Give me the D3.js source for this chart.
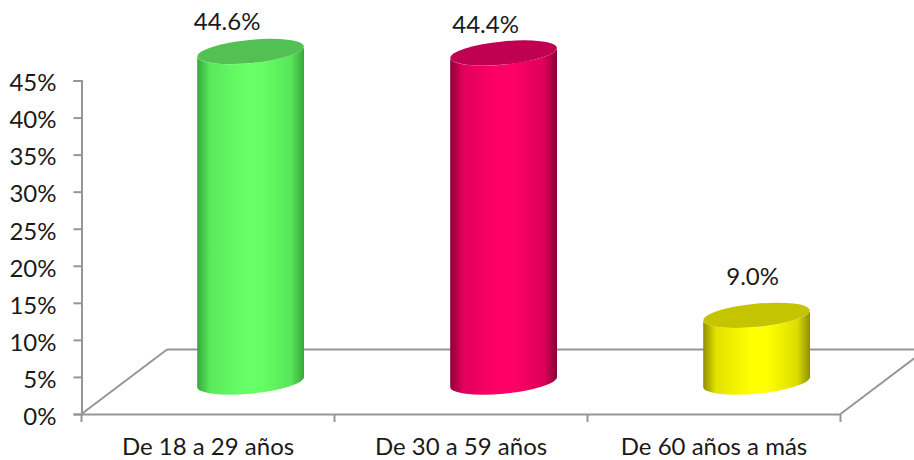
<!DOCTYPE html>
<html>
<head>
<meta charset="utf-8">
<script src="https://d3js.org/d3.v7.min.js"></script>
<style>
  html, body { margin: 0; padding: 0; background: #fff; }
  text { font-family: Lato, "Open Sans", sans-serif; fill: #1a1a1a; }
</style>
</head>
<body>
<div id="chart"></div>
<script>
var categories = ["De 18 a 29 años", "De 30 a 59 años", "De 60 años a más"];
var values = [44.6, 44.4, 9.0];
var valueLabels = ["44.6%", "44.4%", "9.0%"];
var tickValues = [0, 5, 10, 15, 20, 25, 30, 35, 40, 45];
// side colour (edge, middle) and lid colour of each cylinder
var sideEdge = ["#35a838", "#8a0038", "#8f8f00"];
var sideMid = ["#66ff66", "#ff0066", "#ffff00"];
var lidFill = ["#52c052", "#c00050", "#c4c400"];

var width = 914, height = 460;

var svg = d3.select("#chart").append("svg")
    .attr("width", width)
    .attr("height", height)
    .style("display", "block");

var y = d3.scaleLinear().domain([0, 45]).range([414, 80.5]);
var x = d3.scaleBand().domain(categories).range([81.5, 840.5]);

// floor of the 3d box
var depthX = 85.5, depthY = 64.5;
var gridColor = "#969696";

var floor = svg.append("g")
    .attr("fill", "none")
    .attr("stroke", gridColor)
    .attr("stroke-width", 2);
floor.append("line")
    .attr("x1", x.range()[0]).attr("y1", y(0))
    .attr("x2", x.range()[0] + depthX).attr("y2", y(0) - depthY);
floor.append("line")
    .attr("x1", x.range()[0] + depthX).attr("y1", y(0) - depthY)
    .attr("x2", x.range()[1] + depthX).attr("y2", y(0) - depthY);
floor.append("line")
    .attr("x1", x.range()[1]).attr("y1", y(0))
    .attr("x2", x.range()[1] + depthX).attr("y2", y(0) - depthY);

// axes
var yAxis = d3.axisLeft(y)
    .tickValues(tickValues)
    .tickFormat(d => d + "%")
    .tickSize(8)
    .tickPadding(17);
var yG = svg.append("g")
    .attr("transform", "translate(" + x.range()[0] + ",0)")
    .call(yAxis);

var xAxis = d3.axisBottom(x).tickSize(0).tickPadding(24);
var xG = svg.append("g")
    .attr("transform", "translate(0," + y(0) + ")")
    .call(xAxis);

// category separators sit on the band edges
xG.selectAll(".sep")
    .data(x.domain().map(d => x(d)).concat([x.range()[1]]))
    .join("line")
    .attr("class", "sep")
    .attr("x1", d => d).attr("x2", d => d)
    .attr("y1", 0).attr("y2", 8)
    .attr("stroke", gridColor)
    .attr("stroke-width", 2);

[yG, xG].forEach(function(g) {
    g.selectAll(".domain")
        .attr("stroke", gridColor)
        .attr("stroke-width", 2);
    g.selectAll(".tick line").attr("stroke", gridColor).attr("stroke-width", 2);
    g.selectAll("text").style("font-size", "24px").attr("fill", "#1a1a1a");
});
yG.selectAll(".tick text").attr("dy", "0.43em");

// cylinders
var defs = svg.append("defs");
categories.forEach(function(c, i) {
    var grad = defs.append("linearGradient")
        .attr("id", "side" + i)
        .attr("x1", "0%").attr("x2", "100%")
        .attr("y1", "0%").attr("y2", "0%");
    grad.append("stop").attr("offset", "0%").attr("stop-color", sideEdge[i]);
    grad.append("stop").attr("offset", "12%").attr("stop-color", d3.interpolateRgb(sideEdge[i], sideMid[i])(0.75));
    grad.append("stop").attr("offset", "45%").attr("stop-color", sideMid[i]);
    grad.append("stop").attr("offset", "60%").attr("stop-color", sideMid[i]);
    grad.append("stop").attr("offset", "88%").attr("stop-color", d3.interpolateRgb(sideEdge[i], sideMid[i])(0.7));
    grad.append("stop").attr("offset", "100%").attr("stop-color", sideEdge[i]);
});

var rx = 53.5, ry = 11.6, tilt = -5.5;
var offX = 53.4, offY = 4.9; // extreme points of the tilted ellipse
var baseLift = 32; // cylinders stand in the middle of the floor
var barShift = 42.6;

// value labels are hand placed around the lids
var labelNudgeX = [-23.5, -18, -4];
var labelNudgeY = [0, 1, -9];

var bars = svg.append("g").selectAll("g")
    .data(categories)
    .join("g");

bars.append("path")
    .attr("fill", (d, i) => "url(#side" + i + ")")
    .attr("d", function(d, i) {
        var cx = x(d) + x.bandwidth() / 2 + barShift;
        var by = y(0) - baseLift;
        var ty = by - (y(0) - y(values[i]));
        return "M" + (cx - offX) + "," + (ty + offY) +
            "L" + (cx - offX) + "," + (by + offY) +
            "A" + rx + "," + ry + " " + tilt + " 0 0 " + (cx + offX) + "," + (by - offY) +
            "L" + (cx + offX) + "," + (ty - offY) +
            "A" + rx + "," + ry + " " + tilt + " 0 1 " + (cx - offX) + "," + (ty + offY) + "Z";
    });

bars.append("ellipse")
    .attr("fill", (d, i) => lidFill[i])
    .attr("rx", rx)
    .attr("ry", ry)
    .attr("transform", function(d, i) {
        var cx = x(d) + x.bandwidth() / 2 + barShift;
        var ty = y(0) - baseLift - (y(0) - y(values[i]));
        return "translate(" + cx + "," + ty + ") rotate(" + tilt + ")";
    });

bars.append("text")
    .attr("text-anchor", "middle")
    .style("font-size", "24px")
    .attr("x", (d, i) => x(d) + x.bandwidth() / 2 + barShift + labelNudgeX[i])
    .attr("y", (d, i) => y(values[i]) - baseLift - 21 + labelNudgeY[i])
    .text((d, i) => valueLabels[i]);
</script>
</body>
</html>
